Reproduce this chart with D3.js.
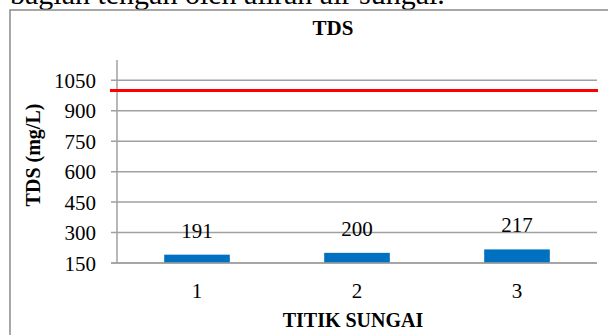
<!DOCTYPE html>
<html>
<head>
<meta charset="utf-8">
<script src="https://cdn.jsdelivr.net/npm/d3@7"></script>
<style>
  html, body { margin: 0; padding: 0; background: #fff; overflow: hidden; }
  svg { display: block; font-family: "Liberation Serif", "Times New Roman", serif; }
</style>
</head>
<body>
<svg id="chart" width="608" height="335"></svg>
<script>
// TDS per sampling point along the river
const categories = ["1", "2", "3"];
const tdsValues = [191, 200, 217];
const yTicks = [150, 300, 450, 600, 750, 900, 1050];
const limitValue = 1000;          // quality standard threshold
const chartTitle = "TDS";
const yTitle = "TDS (mg/L)";
const xTitle = "TITIK SUNGAI";
const captionText = "bagian tengah  oleh aliran air sungai.";

const svg = d3.select("#chart");

// Running text line above the figure (mostly outside the window)
svg.append("text")
  .attr("x", 10).attr("y", 4)
  .attr("font-size", 30)
  .attr("fill", "#000")
  .text(captionText);

// Chart frame
svg.append("rect")
  .attr("x", 10).attr("y", 10)
  .attr("width", 646).attr("height", 340)
  .attr("fill", "none")
  .attr("stroke", "#8a8a8a")
  .attr("stroke-width", 1.5);

const plot = { left: 117, right: 597, top: 60, bottom: 263 };

const x = d3.scaleBand()
  .domain(categories)
  .range([plot.left, plot.right])
  .paddingInner(0.59)
  .paddingOuter(0.295);

const y = d3.scaleLinear()
  .domain([150, 1150])
  .range([plot.bottom, plot.top]);

// Horizontal gridlines with short ticks to the left of the axis
const grid = svg.append("g");
grid.selectAll("line")
  .data(yTicks)
  .join("line")
  .attr("x1", plot.left - 6).attr("x2", plot.right)
  .attr("y1", d => y(d)).attr("y2", d => y(d))
  .attr("stroke", "#a0a0a0")
  .attr("stroke-width", 1.5);

// Value axis line
svg.append("line")
  .attr("x1", plot.left).attr("x2", plot.left)
  .attr("y1", plot.top).attr("y2", plot.bottom)
  .attr("stroke", "#a0a0a0")
  .attr("stroke-width", 1.5);

// Y tick labels
svg.append("g").selectAll("text")
  .data(yTicks)
  .join("text")
  .attr("x", 96)
  .attr("y", d => y(d))
  .attr("dy", "0.36em")
  .attr("text-anchor", "end")
  .attr("font-size", 21)
  .text(d => d);

// Bars
svg.append("g").selectAll("rect")
  .data(tdsValues)
  .join("rect")
  .attr("x", (d, i) => x(categories[i]))
  .attr("width", x.bandwidth())
  .attr("y", d => y(d))
  .attr("height", d => y(150) - y(d))
  .attr("fill", "#0070c0");

// Category baseline redrawn over bars
svg.append("line")
  .attr("x1", plot.left - 6).attr("x2", plot.right)
  .attr("y1", y(150)).attr("y2", y(150))
  .attr("stroke", "#a0a0a0")
  .attr("stroke-width", 1.5);

// Threshold line
svg.append("line")
  .attr("x1", plot.left - 7).attr("x2", plot.right + 1)
  .attr("y1", y(limitValue)).attr("y2", y(limitValue))
  .attr("stroke", "#ff0000")
  .attr("stroke-width", 3);

// Value labels
svg.append("g").selectAll("text")
  .data(tdsValues)
  .join("text")
  .attr("x", (d, i) => x(categories[i]) + x.bandwidth() / 2)
  .attr("y", d => y(d) - 17)
  .attr("text-anchor", "middle")
  .attr("font-size", 21)
  .text(d => d);

// Category labels
svg.append("g").selectAll("text")
  .data(categories)
  .join("text")
  .attr("x", d => x(d) + x.bandwidth() / 2)
  .attr("y", 298)
  .attr("text-anchor", "middle")
  .attr("font-size", 21)
  .text(d => d);

// Titles
svg.append("text")
  .attr("x", 333).attr("y", 35)
  .attr("text-anchor", "middle")
  .attr("font-size", 21)
  .attr("font-weight", "bold")
  .text(chartTitle);

svg.append("text")
  .attr("x", (plot.left + plot.right) / 2 - 4).attr("y", 327)
  .attr("text-anchor", "middle")
  .attr("font-size", 20)
  .attr("font-weight", "bold")
  .text(xTitle);

svg.append("text")
  .attr("transform", "translate(40,155) rotate(-90)")
  .attr("text-anchor", "middle")
  .attr("font-size", 20)
  .attr("font-weight", "bold")
  .text(yTitle);
</script>
</body>
</html>
